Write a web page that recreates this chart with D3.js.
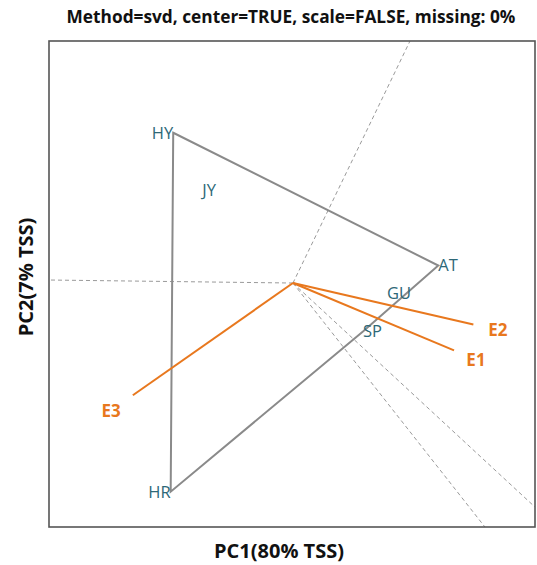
<!DOCTYPE html>
<html>
<head>
<meta charset="utf-8">
<script src="https://cdn.jsdelivr.net/npm/d3@7"></script>
<style>
  body { margin: 0; background: #fff; }
  text { font-family: "Open Sans", "Noto Sans", sans-serif; }
</style>
</head>
<body>
<svg id="chart" width="537" height="565"></svg>
<script>
// GGE biplot scores (PC1, PC2)
const genotypes = ["HY", "JY", "AT", "GU", "SP", "HR"];
const genPC1 = [-1.232, -0.792, 1.495, 0.967, 0.720, -1.258];
const genPC2 = [1.546, 0.952, 0.180, -0.103, -0.499, -2.147];

// genotypes on the which-won-where polygon, in drawing order
const hullOrder = ["HY", "AT", "SP", "HR"];

// sector boundary rays from the origin (direction in PC1/PC2 units)
const rayPC1 = [-2.51, 1.204, 1.975, 2.49];
const rayPC2 = [0.031, 2.49, -2.51, -2.305];

const environments = ["E1", "E2", "E3"];
const envPC1 = [1.883, 2.109, -1.872];
const envPC2 = [-0.787, -0.484, -1.312];

const titleText = "Method=svd, center=TRUE, scale=FALSE, missing: 0%";
const xAxisLabel = "PC1(80% TSS)";
const yAxisLabel = "PC2(7% TSS)";

const colGen = "#2d6877";
const colEnv = "#e8781e";
const colHull = "#8a8a8a";

const svg = d3.select("#chart");
const plot = { left: 49, top: 41, right: 535, bottom: 527 };

const x = d3.scaleLinear().domain([-2.51, 2.49]).range([plot.left, plot.right]);
const y = d3.scaleLinear().domain([-2.51, 2.49]).range([plot.bottom, plot.top]);

svg.append("defs").append("clipPath").attr("id", "plot-clip")
  .append("rect")
  .attr("x", plot.left).attr("y", plot.top)
  .attr("width", plot.right - plot.left).attr("height", plot.bottom - plot.top);

const g = svg.append("g").attr("clip-path", "url(#plot-clip)");

const gen = genotypes.map((name, i) => ({ name, pc1: genPC1[i], pc2: genPC2[i] }));
const env = environments.map((name, i) => ({ name, pc1: envPC1[i], pc2: envPC2[i] }));
const byName = new Map(gen.map(d => [d.name, d]));
const hull = hullOrder.map(n => byName.get(n));

// rays are extended well past the frame and clipped to it
const rays = rayPC1.map((p, i) => {
  const len = Math.hypot(p, rayPC2[i]);
  return { pc1: p / len * 20, pc2: rayPC2[i] / len * 20 };
});

g.selectAll("line.ray").data(rays).join("line")
  .attr("class", "ray")
  .attr("x1", x(0)).attr("y1", y(0))
  .attr("x2", d => x(d.pc1)).attr("y2", d => y(d.pc2))
  .attr("stroke", "#9a9a9a").attr("stroke-width", 1)
  .attr("stroke-dasharray", "4,3");

// polygon joining the vertex genotypes
g.append("path")
  .datum(hull)
  .attr("d", d3.line().x(d => x(d.pc1)).y(d => y(d.pc2)).curve(d3.curveLinearClosed))
  .attr("fill", "none").attr("stroke", colHull).attr("stroke-width", 2);

// environment vectors
g.selectAll("line.env").data(env).join("line")
  .attr("class", "env")
  .attr("x1", x(0)).attr("y1", y(0))
  .attr("x2", d => x(d.pc1 * 0.88)).attr("y2", d => y(d.pc2 * 0.88))
  .attr("stroke", colEnv).attr("stroke-width", 2);

// genotype labels
svg.selectAll("text.gen").data(gen).join("text")
  .attr("class", "gen")
  .attr("x", d => x(d.pc1)).attr("y", d => y(d.pc2))
  .attr("dy", "0.36em")
  .attr("text-anchor", d => d.pc1 < 0 ? "end" : "start")
  .attr("font-size", 16.5)
  .attr("fill", colGen)
  .text(d => d.name);

// environment labels
svg.selectAll("text.envlab").data(env).join("text")
  .attr("class", "envlab")
  .attr("x", d => x(d.pc1)).attr("y", d => y(d.pc2))
  .attr("dy", "0.36em")
  .attr("text-anchor", "middle")
  .attr("font-size", 17).attr("font-weight", "bold")
  .attr("fill", colEnv)
  .text(d => d.name);

// frame
svg.append("rect")
  .attr("x", plot.left).attr("y", plot.top)
  .attr("width", plot.right - plot.left).attr("height", plot.bottom - plot.top)
  .attr("fill", "none").attr("stroke", "#555").attr("stroke-width", 1.6);

// title and axis titles
svg.append("text")
  .attr("x", 291).attr("y", 23)
  .attr("text-anchor", "middle")
  .attr("font-size", 17.3).attr("font-weight", "bold")
  .attr("fill", "#111")
  .text(titleText);

svg.append("text")
  .attr("x", 279).attr("y", 558)
  .attr("text-anchor", "middle")
  .attr("font-size", 20).attr("font-weight", "bold")
  .attr("fill", "#111")
  .text(xAxisLabel);

svg.append("text")
  .attr("transform", "translate(33,277) rotate(-90)")
  .attr("text-anchor", "middle")
  .attr("font-size", 20).attr("font-weight", "bold")
  .attr("fill", "#111")
  .text(yAxisLabel);
</script>
</body>
</html>
